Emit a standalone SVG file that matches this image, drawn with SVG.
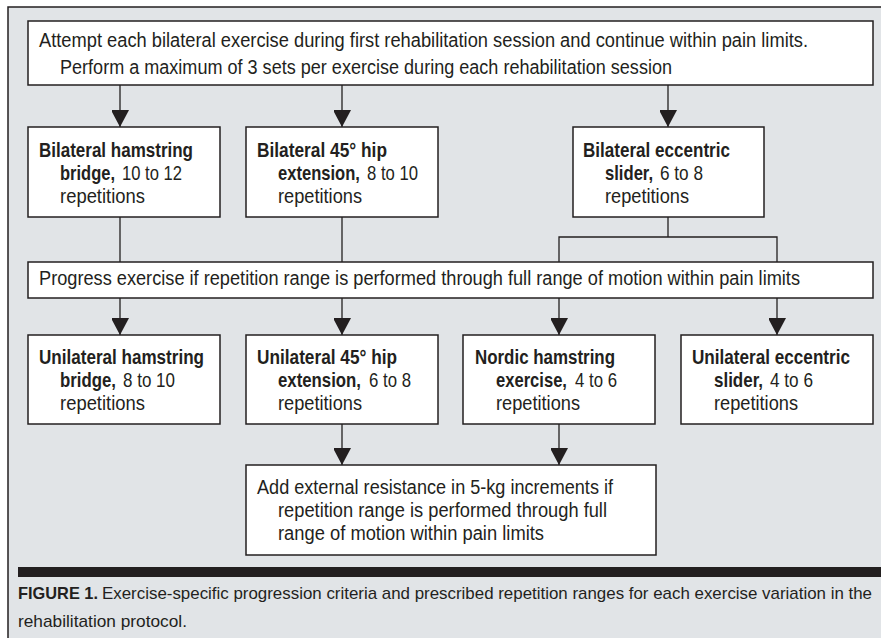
<svg xmlns="http://www.w3.org/2000/svg" width="881" height="638" viewBox="0 0 881 638">
<defs>
<style>
.box{fill:#ffffff;stroke:#231f20;stroke-width:1.5}
.con{fill:none;stroke:#231f20;stroke-width:1.3}
.t{font-family:"Liberation Sans Narrow","Liberation Sans",Arial,sans-serif;font-size:20px;fill:#231f20}
.c{font-family:"Liberation Sans Narrow","Liberation Sans",Arial,sans-serif;font-size:17px;fill:#231f20}
.b{font-weight:bold}
</style>
<marker id="ah" markerWidth="18" markerHeight="17" refX="17" refY="9" orient="auto" markerUnits="userSpaceOnUse">
<path d="M0,0 L17,9 L0,18 Z" fill="#231f20"/>
</marker>
</defs>
<rect x="0" y="0" width="881" height="638" fill="#ffffff"/>
<rect x="8" y="7" width="873" height="633" fill="#e1e4e7"/>
<path d="M881,7 H8 V640" fill="none" stroke="#231f20" stroke-width="1.5"/>

<g id="connectors">
<line class="con" x1="120" y1="85" x2="120" y2="127" marker-end="url(#ah)"/>
<line class="con" x1="342" y1="85" x2="342" y2="127" marker-end="url(#ah)"/>
<line class="con" x1="668" y1="85" x2="668" y2="127" marker-end="url(#ah)"/>
<line class="con" x1="120" y1="217" x2="120" y2="262"/>
<line class="con" x1="342" y1="217" x2="342" y2="262"/>
<path class="con" d="M668,217 V237 M559,262 V237 H777 V262"/>
<line class="con" x1="120" y1="298" x2="120" y2="335" marker-end="url(#ah)"/>
<line class="con" x1="342" y1="298" x2="342" y2="335" marker-end="url(#ah)"/>
<line class="con" x1="559" y1="298" x2="559" y2="335" marker-end="url(#ah)"/>
<line class="con" x1="777" y1="298" x2="777" y2="335" marker-end="url(#ah)"/>
<line class="con" x1="342" y1="424" x2="342" y2="465" marker-end="url(#ah)"/>
<line class="con" x1="559" y1="424" x2="559" y2="465" marker-end="url(#ah)"/>
</g>

<g id="start">
<rect class="box" x="28" y="21" width="845" height="64"/>
<text class="t" x="39" y="47" textLength="769" lengthAdjust="spacingAndGlyphs">Attempt each bilateral exercise during first rehabilitation session and continue within pain limits.</text>
<text class="t" x="60" y="74" textLength="612" lengthAdjust="spacingAndGlyphs">Perform a maximum of 3 sets per exercise during each rehabilitation session</text>
</g>

<g id="bil-bridge">
<rect class="box" x="28" y="127" width="192" height="90"/>
<text class="t b" x="39" y="157" textLength="154" lengthAdjust="spacingAndGlyphs">Bilateral hamstring</text>
<text class="t b" transform="translate(60,180) scale(0.825,1)">bridge,</text>
<text class="t" x="122" y="180" textLength="60" lengthAdjust="spacingAndGlyphs">10 to 12</text>
<text class="t" x="60" y="203" textLength="85" lengthAdjust="spacingAndGlyphs">repetitions</text>
</g>

<g id="bil-hip">
<rect class="box" x="246" y="127" width="192" height="90"/>
<text class="t b" x="257" y="157" textLength="130" lengthAdjust="spacingAndGlyphs">Bilateral 45° hip</text>
<text class="t b" transform="translate(278,180) scale(0.829,1)">extension,</text>
<text class="t" x="367" y="180" textLength="51" lengthAdjust="spacingAndGlyphs">8 to 10</text>
<text class="t" x="278" y="203" textLength="84" lengthAdjust="spacingAndGlyphs">repetitions</text>
</g>

<g id="bil-slider">
<rect class="box" x="573" y="127" width="191" height="90"/>
<text class="t b" x="583" y="157" textLength="147" lengthAdjust="spacingAndGlyphs">Bilateral eccentric</text>
<text class="t b" transform="translate(605,180) scale(0.832,1)">slider,</text>
<text class="t" x="660" y="180" textLength="43" lengthAdjust="spacingAndGlyphs">6 to 8</text>
<text class="t" x="605" y="203" textLength="84" lengthAdjust="spacingAndGlyphs">repetitions</text>
</g>

<g id="progress">
<rect class="box" x="28" y="262" width="845" height="36"/>
<text class="t" x="39" y="285" textLength="761" lengthAdjust="spacingAndGlyphs">Progress exercise if repetition range is performed through full range of motion within pain limits</text>
</g>

<g id="uni-bridge">
<rect class="box" x="28" y="335" width="192" height="89"/>
<text class="t b" x="39" y="364" textLength="165" lengthAdjust="spacingAndGlyphs">Unilateral hamstring</text>
<text class="t b" transform="translate(60,387) scale(0.84,1)">bridge,</text>
<text class="t" x="123" y="387" textLength="52" lengthAdjust="spacingAndGlyphs">8 to 10</text>
<text class="t" x="60" y="410" textLength="85" lengthAdjust="spacingAndGlyphs">repetitions</text>
</g>

<g id="uni-hip">
<rect class="box" x="246" y="335" width="192" height="89"/>
<text class="t b" x="257" y="364" textLength="140" lengthAdjust="spacingAndGlyphs">Unilateral 45° hip</text>
<text class="t b" transform="translate(278,387) scale(0.839,1)">extension,</text>
<text class="t" x="369" y="387" textLength="42" lengthAdjust="spacingAndGlyphs">6 to 8</text>
<text class="t" x="278" y="410" textLength="84" lengthAdjust="spacingAndGlyphs">repetitions</text>
</g>

<g id="nordic">
<rect class="box" x="463" y="335" width="192" height="89"/>
<text class="t b" x="475" y="364" textLength="140" lengthAdjust="spacingAndGlyphs">Nordic hamstring</text>
<text class="t b" transform="translate(496,387) scale(0.829,1)">exercise,</text>
<text class="t" x="575" y="387" textLength="42" lengthAdjust="spacingAndGlyphs">4 to 6</text>
<text class="t" x="496" y="410" textLength="84" lengthAdjust="spacingAndGlyphs">repetitions</text>
</g>

<g id="uni-slider">
<rect class="box" x="681" y="335" width="192" height="89"/>
<text class="t b" x="692" y="364" textLength="158" lengthAdjust="spacingAndGlyphs">Unilateral eccentric</text>
<text class="t b" transform="translate(714,387) scale(0.849,1)">slider,</text>
<text class="t" x="770" y="387" textLength="43" lengthAdjust="spacingAndGlyphs">4 to 6</text>
<text class="t" x="714" y="410" textLength="84" lengthAdjust="spacingAndGlyphs">repetitions</text>
</g>

<g id="resistance">
<rect class="box" x="246" y="465" width="410" height="90"/>
<text class="t" x="257" y="494" textLength="356" lengthAdjust="spacingAndGlyphs">Add external resistance in 5-kg increments if</text>
<text class="t" x="278" y="517" textLength="329" lengthAdjust="spacingAndGlyphs">repetition range is performed through full</text>
<text class="t" x="278" y="540" textLength="266" lengthAdjust="spacingAndGlyphs">range of motion within pain limits</text>
</g>

<g id="caption">
<rect x="18" y="567" width="863" height="10" fill="#231f20"/>
<text class="c b" x="18" y="599" textLength="80" lengthAdjust="spacingAndGlyphs">FIGURE 1.</text>
<text class="c" x="102" y="599" textLength="770" lengthAdjust="spacingAndGlyphs">Exercise-specific progression criteria and prescribed repetition ranges for each exercise variation in the</text>
<text class="c" x="18" y="627" textLength="169" lengthAdjust="spacingAndGlyphs">rehabilitation protocol.</text>
</g>
</svg>
